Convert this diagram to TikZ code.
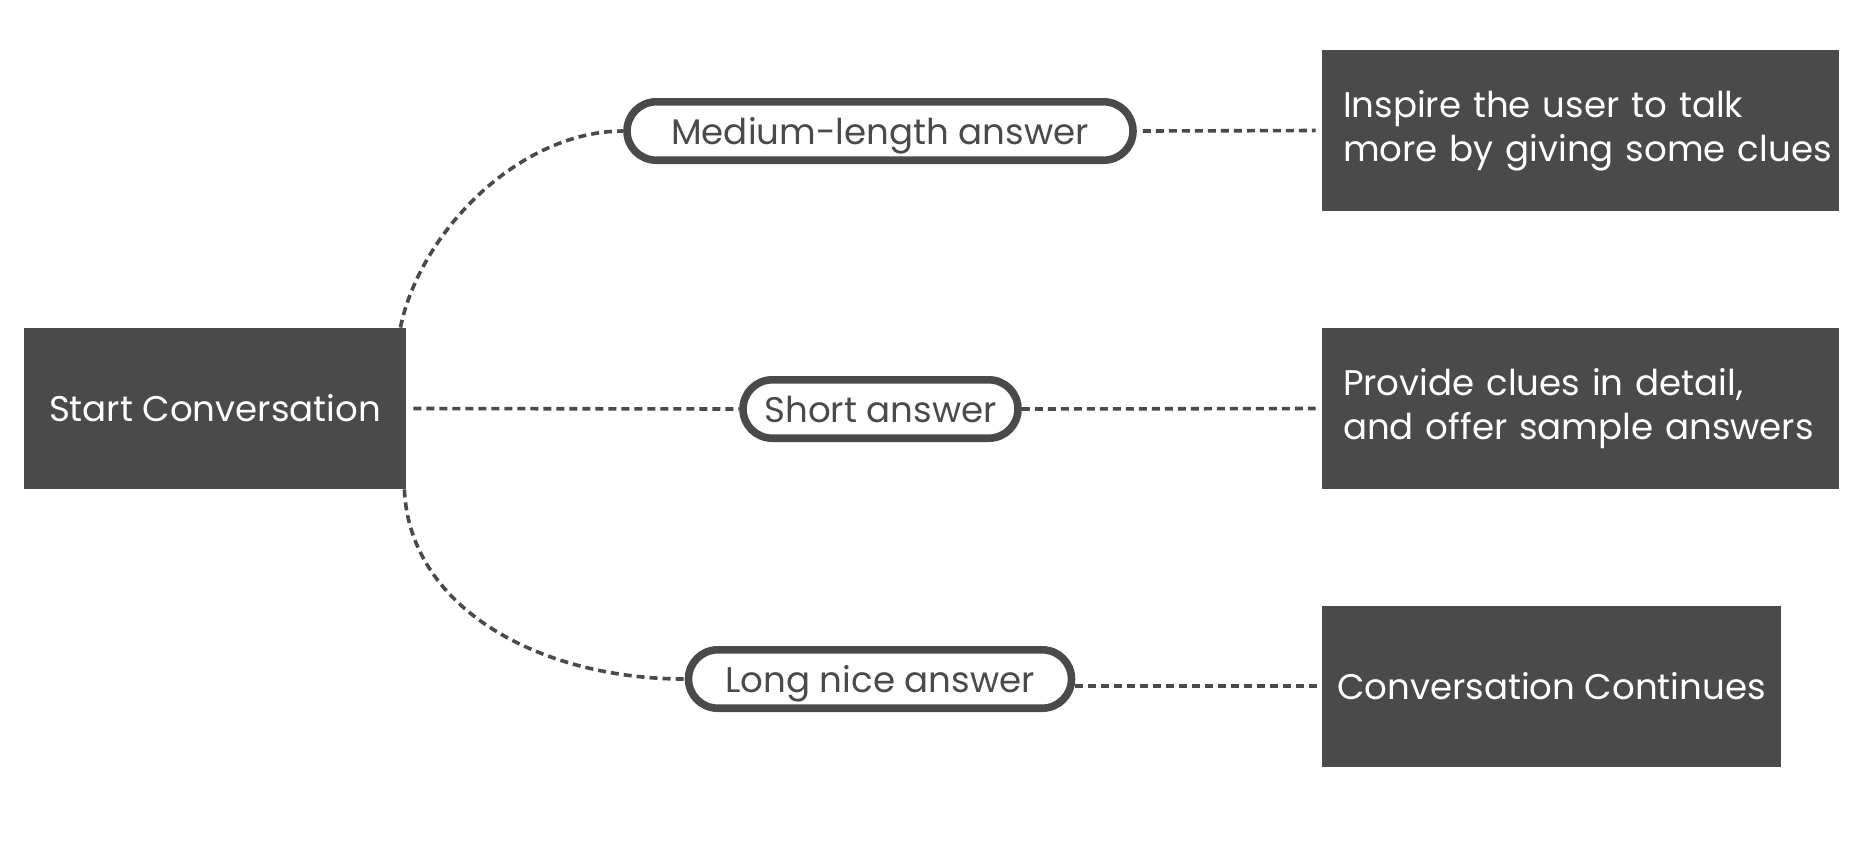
\documentclass[tikz,border=0pt]{standalone}
\usepackage{fontspec}
\setmainfont{Poppins}
\usepackage{xcolor}
\usetikzlibrary{shapes.misc}
\definecolor{cvDark}{RGB}{74, 74, 74}
\tikzset{
    base/.style={
        font=\fontsize{17.8}{22}\selectfont
    },
    box/.style={
        base,
        rectangle,
        fill=cvDark,
        text=white,
        minimum height=80.5pt,
        inner sep=0pt
    },
    pill/.style={
        base,
        rounded rectangle,
        draw=cvDark,
        line width=3.8pt,
        fill=white,
        text=cvDark,
        text height=13.5pt,
        text depth=0pt,
        minimum height=29.2pt,
        inner sep=0pt
    },
    link/.style={
        draw=cvDark,
        line width=1.8pt,
        dash pattern=on 4pt off 2.5pt
    }
}

\begin{document}
\begin{tikzpicture}[x=0.5pt, y=-0.5pt]
    \useasboundingbox (0,0) rectangle (1872,842);

    % Start
    \node[box, minimum width=191pt] (start) at (215,408.5) {Start Conversation};

    % Answers
    \node[pill, minimum width=253pt] (medium) at (880,131) {Medium-length answer};
    \node[pill, minimum width=137.5pt] (short) at (880.5,409) {Short answer};
    \node[pill, minimum width=191.5pt] (long) at (880,679) {Long nice answer};

    % Reactions
    \node[box, minimum width=258.5pt, text width=237.5pt, align=left] (inspire) at (1580.5,130.5)
        {\mbox{Inspire the user to talk}\\\mbox{more by giving some clues}};
    \node[box, minimum width=258.5pt, text width=237.5pt, align=left] (provide) at (1580.5,408.5)
        {\mbox{Provide clues in detail,}\\\mbox{and offer sample answers}};
    \node[box, minimum width=229.5pt] (cont) at (1551.5,686) {Conversation Continues};

    % Links
    \draw[link] ([xshift=-3pt]start.north east) .. controls +(20,-97) and +(-103,0) .. (medium.west);
    \draw[link] ([xshift=3.5pt]start.east) -- (short.west);
    \draw[link] ([xshift=-1pt]start.south east) .. controls +(5,120) and +(-143,0) .. (long.west);
    \draw[link] ([xshift=3pt]medium.east) -- ([xshift=-3pt]inspire.west);
    \draw[link] (short.east) -- ([xshift=-3pt]provide.west);
    \draw[link] (cont.west -| long.east) -- (cont.west);
\end{tikzpicture}
\end{document}
